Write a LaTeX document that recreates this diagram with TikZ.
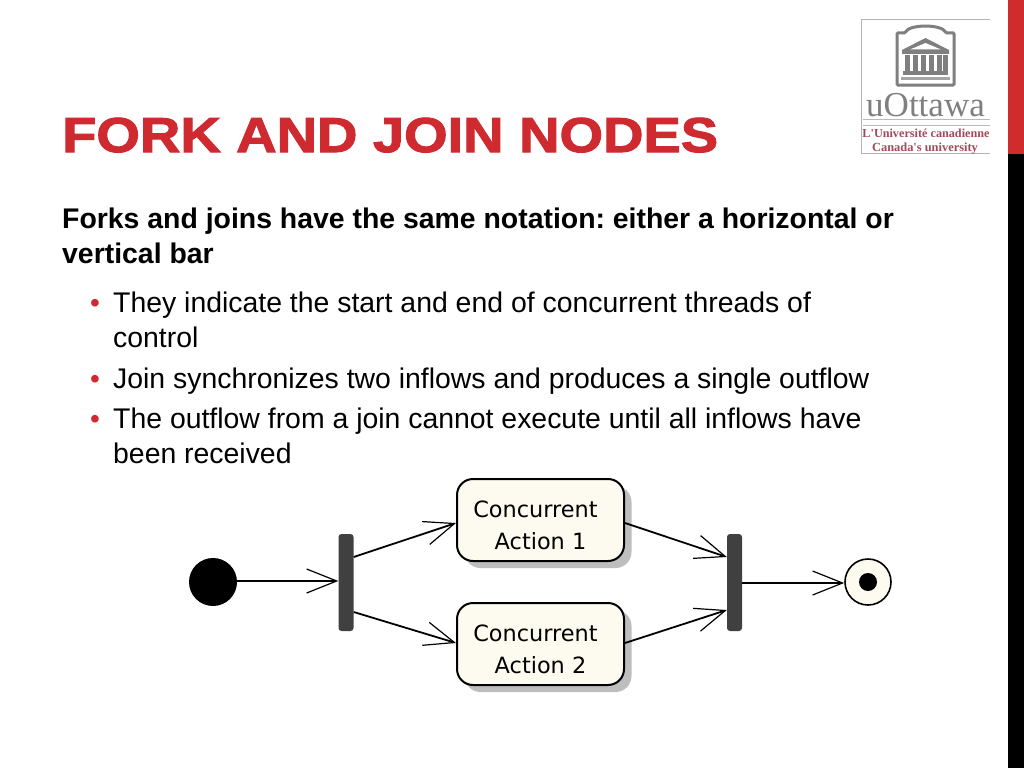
\documentclass[tikz,border=0pt]{standalone}
\usepackage{fontspec}
\setmainfont{Liberation Sans}
\newfontfamily\titlefont[BoldFeatures={FakeBold=2.2,FakeStretch=1.142}]{Liberation Sans}
\newfontfamily\logoserif{Liberation Serif}
\newfontfamily\uitext{DejaVu Sans}
\usetikzlibrary{arrows.meta,calc}
\definecolor{ottred}{HTML}{CE2A30}
\definecolor{sidered}{HTML}{D02C2E}
\definecolor{barcol}{HTML}{404040}
\definecolor{cream}{HTML}{FDFBF0}
\definecolor{shade}{HTML}{BEBEBE}
\definecolor{logogrey}{HTML}{7F7F7F}
\definecolor{logored}{HTML}{A04A5C}
\tikzset{
  titletext/.style={anchor=base west,inner sep=0pt,text=ottred,font=\titlefont\fontsize{49}{49}\bfseries},
  leadtext/.style={anchor=base west,inner sep=0pt,font=\fontsize{28.4}{34}\bfseries\frenchspacing},
  bodytext/.style={anchor=base west,inner sep=0pt,font=\fontsize{28.4}{34}\selectfont},
  bullettext/.style={anchor=base west,inner sep=0pt,text=ottred,font=\fontsize{28}{34}\selectfont},
  actionbox/.style={draw=black,line width=2pt,fill=cream,rounded corners=16pt,minimum width=167pt,minimum height=82pt,inner sep=0pt},
  actiontext/.style={inner sep=0pt,align=center,font=\uitext\fontsize{22.4}{32}\selectfont},
  shadowbox/.style={fill=shade,rounded corners=16pt,minimum width=167pt,minimum height=82pt,inner sep=0pt},
  barnode/.style={fill=barcol,rounded corners=3pt,minimum width=15pt,minimum height=97pt,inner sep=0pt},
  flow/.style={line width=1.8pt,-{Straight Barb[length=30pt,width=24pt,line width=1.2pt]}},
  logoline/.style={draw=logogrey,line width=3pt},
}
\begin{document}
\begin{tikzpicture}[x=1pt,y=-1pt]
\useasboundingbox (0,0) rectangle (1024,768);
\fill[white] (0,0) rectangle (1024,768);
% side bar
\fill[sidered] (1008,0) rectangle (1024,154);
\fill[black] (1008,154) rectangle (1024,768);
% title and text
\node[titletext] (title) at (62,152) {FORK AND JOIN NODES};
\node[leadtext] (l1) at (62,228.5) {Forks and joins have the same notation: either a horizontal or};
\node[leadtext] (l2) at (62,263) {vertical bar};
\node[bullettext] (b1) at (90,312.5) {•};
\node[bodytext] (t1) at (113,312.5) {They indicate the start and end of concurrent threads of};
\node[bodytext] (t2) at (113,347) {control};
\node[bullettext] (b2) at (90,388.5) {•};
\node[bodytext] (t3) at (113,388.5) {Join synchronizes two inflows and produces a single outflow};
\node[bullettext] (b3) at (90,428.5) {•};
\node[bodytext] (t4) at (113,428.5) {The outflow from a join cannot execute until all inflows have};
\node[bodytext] (t5) at (113,463) {been received};
% logo
\draw[gray!60,line width=0.8pt] (990,19) -- (861.5,19) -- (861.5,153) -- (990,153);
\draw[logoline,rounded corners=1pt] (897,85) -- (897,33) -- (905,33) .. controls (909,24) and (942,24) .. (946,33) -- (954,33) -- (954,85) -- cycle;
\fill[logogrey] (902,50) -- (925.5,38) -- (949,50) -- (949,54) -- (902,54) -- cycle;
\fill[white] (910,49.5) -- (925.5,43) -- (941,49.5) -- cycle;
\foreach \cx in {905,913,921,929,937,943} {\fill[logogrey] (\cx,55) rectangle (\cx+4.5,72);}
\fill[logogrey] (903,71) rectangle (948,75);
\fill[logogrey!70] (901,77) rectangle (950,80);
\node[anchor=base,inner sep=0pt,text=logogrey,font=\logoserif\fontsize{35}{35}\selectfont] (uo) at (925.5,116) {uOttawa};
\draw[gray!55,line width=0.7pt] (863,119.5) -- (990,119.5);
\draw[gray!55,line width=0.7pt] (863,125) -- (990,125);
\node[anchor=base,inner sep=0pt,text=logored,font=\logoserif\bfseries\fontsize{12.2}{13}\selectfont] (u1) at (926,137.5) {L'Université canadienne};
\node[anchor=base,inner sep=0pt,text=logored,font=\logoserif\bfseries\fontsize{12.4}{13}\selectfont] (u2) at (925,151) {Canada's university};
% diagram
\node[shadowbox] at (548,527) {};
\node[shadowbox] at (548,651) {};
\node[actionbox] (a1) at (540.5,520) {};
\node[actionbox] (a2) at (540.5,644) {};
\node[actiontext] (a1t) at (535.5,525) {Concurrent\\\hspace*{10pt}Action 1};
\node[actiontext] (a2t) at (535.5,649) {Concurrent\\\hspace*{10pt}Action 2};
\node[circle,fill=black,minimum size=48pt,inner sep=0pt] (start) at (213,582) {};
\node[barnode] (fork) at (346,582.5) {};
\node[barnode] (join) at (734.5,582.5) {};
\node[circle,draw=black,line width=1.6pt,fill=cream,minimum size=46pt,inner sep=0pt] (end) at (868,582) {};
\node[circle,fill=black,minimum size=18pt,inner sep=0pt] (enddot) at (868,582) {};
\draw[flow] (start.east |- 0,581) -- (fork.west |- 0,581);
\draw[flow] ([yshift=25.5pt]fork.east) -- ([yshift=-3pt]a1.west);
\draw[flow] ([yshift=-29.5pt]fork.east) -- ([yshift=1pt]a2.west);
\draw[flow] ([yshift=-3pt]a1.east) -- ([yshift=25.5pt]join.west);
\draw[flow] ([yshift=1pt]a2.east) -- ([yshift=-27.5pt]join.west);
\draw[flow] (join.east |- 0,583) -- (end.west |- 0,583);
\end{tikzpicture}
\end{document}
